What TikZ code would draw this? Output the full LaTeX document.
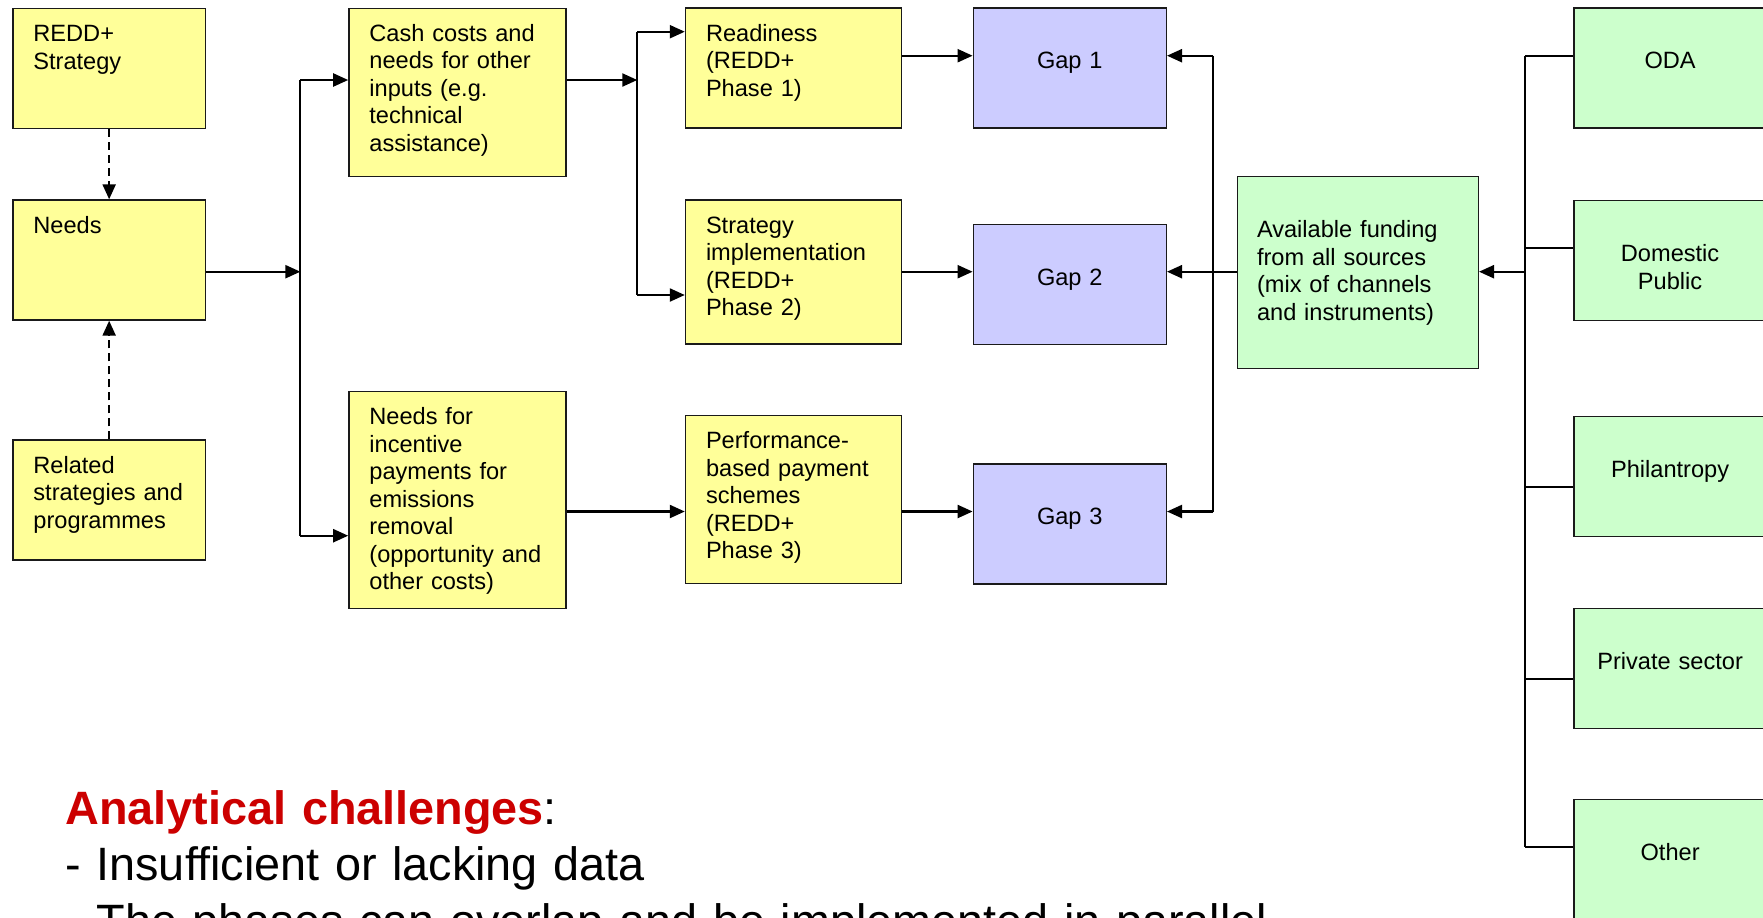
\documentclass[tikz,border=0pt]{standalone}
\usepackage{fontspec}
\setmainfont{Liberation Sans}
\usepackage{xcolor}
\usepackage{tikz}
\usetikzlibrary{arrows.meta, calc}

\definecolor{yel}{HTML}{FFFF99}
\definecolor{lav}{HTML}{CCCCFF}
\definecolor{mint}{HTML}{CCFFCC}
\definecolor{edge}{HTML}{1A1A1A}
\definecolor{chalred}{HTML}{CC0000}
\newcommand{\boxfont}{\fontsize{11.8}{13.75}\selectfont}
\newcommand{\notefont}{\fontsize{23.4}{28.3}\selectfont}

\begin{document}
\begin{tikzpicture}[x=0.5pt, y=-0.5pt,
    box/.style={draw=edge, line width=0.7pt, anchor=north west, inner ysep=0pt, font=\boxfont},
    ybox/.style={box, fill=yel, inner xsep=10.25pt, align=left, text height=16.5pt},
    gapbox/.style={box, fill=lav, inner xsep=0pt, text width=96.5pt, align=center, text height=30.4pt, text depth=29.6pt},
    srcbox/.style={box, fill=mint, inner xsep=0pt, text width=96pt, align=center, text height=30.4pt, text depth=29.6pt},
    arr/.style={-{Triangle[length=7.5pt, width=6.5pt]}, line width=1.1pt},
    dasharr/.style={arr, dash pattern=on 4pt off 2.5pt},
    wire/.style={line width=1pt},
]
\useasboundingbox (0,0) rectangle (1763,917);
\clip (0,0) rectangle (1763,917);
\fill[white] (0,0) rectangle (1763,917);

% needs side
\node[ybox, text width=75.75pt, text depth=43.5pt] (redd) at (12.2,8) {REDD+\\Strategy};
\node[ybox, text width=75.75pt, text depth=43.5pt] (needs) at (12.2,199.3) {Needs};
\node[ybox, text width=75.75pt, text depth=43.5pt] (related) at (12.2,439.3) {Related\\strategies and\\programmes};

\node[ybox, text width=88pt, text depth=67.5pt] (cash) at (348.2,7.7) {Cash costs and\\needs for other\\inputs (e.g.\\technical\\assistance)};
\node[ybox, text width=88pt, text depth=91.85pt] (incent) at (348.2,391) {Needs for\\incentive\\payments for\\emissions\\removal\\(opportunity and\\other costs)};

\node[ybox, text width=87.6pt, text depth=43.5pt] (ready) at (684.8,7.3) {Readiness\\(REDD+\\Phase 1)};
\node[ybox, text width=87.6pt, text depth=55.5pt] (strat) at (684.8,199.3) {Strategy\\implementation\\(REDD+\\Phase 2)};
\node[ybox, text width=87.6pt, text depth=67.35pt] (perf) at (684.8,415) {Performance-\\based payment\\schemes\\(REDD+\\Phase 3)};

% gaps
\node[gapbox] (gap1) at (972.6,7.3) {Gap 1};
\node[gapbox] (gap2) at (972.6,224) {Gap 2};
\node[gapbox] (gap3) at (972.6,463.3) {Gap 3};

% funding side
\node[box, fill=mint, inner xsep=9.75pt, text width=100.9pt, align=left, text height=30.6pt, text depth=65.4pt] (avail) at (1236.8,175.7) {Available funding\\from all sources\\(mix of channels\\and instruments)};

\node[srcbox] (oda) at (1573.4,7.3) {ODA};
\node[srcbox] (dom) at (1573.4,200) {Domestic\\Public};
\node[srcbox] (phil) at (1573.4,415.7) {Philantropy};
\node[srcbox] (priv) at (1573.4,608) {Private sector};
\node[srcbox] (other) at (1573.4,799) {Other};

\node[anchor=base west, inner sep=0pt, text width=700pt, align=left, font=\notefont] (chal) at (65,824)
  {{\color{chalred}\textbf{Analytical challenges}}:\\- Insufficient or lacking data\\- The phases can overlap and be implemented in parallel};

% rows and junctions
\coordinate (row1) at (0,55.7);
\coordinate (row2) at (0,271.7);
\coordinate (row3) at (0,511.5);
\coordinate (ja) at (300.4,80);
\coordinate (jb) at (300.4,535.7);
\coordinate (jc) at (637.3,31.7);
\coordinate (jd) at (637.3,295);
\coordinate (ga) at (1213.3,55.7);
\coordinate (gb) at (1213.3,511.5);
\coordinate (sa) at (1525.3,55.7);
\coordinate (sb) at (1525.3,846.7);

\draw[dasharr] (redd.south) -- (needs.north);
\draw[dasharr] (related.north) -- (needs.south);

\draw[arr] (needs.east |- row2) -- (ja |- row2);
\draw[wire] (ja) -- (jb);
\draw[arr] (ja) -- (cash.west |- ja);
\draw[arr] (jb) -- (incent.west |- jb);

\draw[arr] (cash.east |- ja) -- (jc |- ja);
\draw[wire] (jc) -- (jd);
\draw[arr] (jc) -- (ready.west |- jc);
\draw[arr] (jd) -- (strat.west |- jd);
\draw[arr] (incent.east |- row3) -- (perf.west |- row3);

\draw[arr] (ready.east |- row1) -- (gap1.west |- row1);
\draw[arr] (strat.east |- row2) -- (gap2.west |- row2);
\draw[arr] (perf.east |- row3) -- (gap3.west |- row3);

\draw[wire] (ga) -- (gb);
\draw[arr] (ga) -- (gap1.east |- ga);
\draw[arr] (gb) -- (gap3.east |- gb);
\draw[arr] (avail.west |- row2) -- (gap2.east |- row2);

\draw[wire] (sa) -- (sb);
\foreach \src/\y in {oda/55.7, dom/247.7, phil/487.3, priv/679.3, other/846.7}
  \draw[wire] (sa |- 0,\y) -- (\src.west |- 0,\y);
\draw[arr] (sa |- row2) -- (avail.east |- row2);

\end{tikzpicture}
\end{document}
